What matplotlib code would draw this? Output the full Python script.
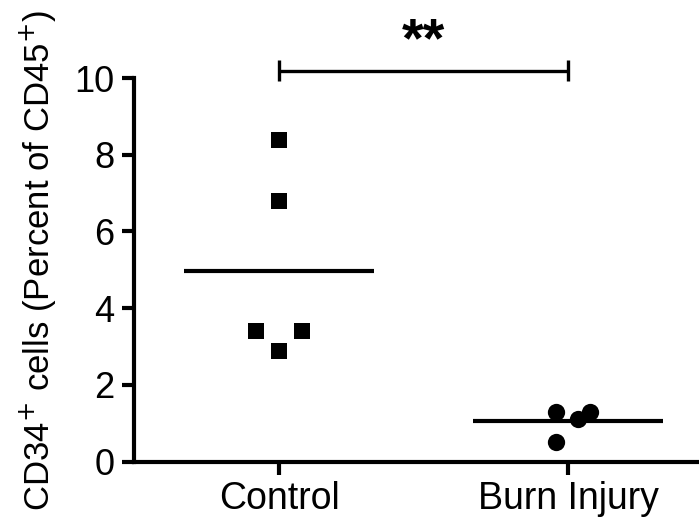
import matplotlib
matplotlib.use("Agg")
import matplotlib.pyplot as plt

plt.rcParams['font.family'] = ['Liberation Sans', 'DejaVu Sans']

# values
categories = ["Control", "Burn Injury"]
control_vals = [8.38, 6.79, 3.40, 3.40, 2.88]
burn_vals = [1.30, 1.10, 1.30, 0.50]
control_jitter = [0.0, 0.0, -0.08, 0.08, 0.0]
burn_jitter = [-0.043, 0.036, 0.076, -0.043]
y_ticks = [0, 2, 4, 6, 8, 10]
sig_label = "**"

fig = plt.figure(figsize=(6.99, 5.24), dpi=100)
# axes runs past the right edge, like the cropped original
ax = fig.add_axes([134 / 699, 1 - 461.5 / 524, (712.5 - 134) / 699, (461.5 - 78) / 524])

lw = 3.0
ax.scatter([0 + j for j in control_jitter], control_vals, marker='s', s=135,
           color='black', linewidths=0, zorder=3, clip_on=False)
ax.scatter([1 + j for j in burn_jitter], burn_vals, marker='o', s=155,
           color='black', linewidths=0, zorder=3, clip_on=False)

# mean lines
for i, vals in enumerate([control_vals, burn_vals]):
    m = sum(vals) / len(vals)
    ax.plot([i - 0.33, i + 0.33], [m, m], color='black', lw=lw, solid_capstyle='butt')

# significance bracket
yb = 10.19
ax.plot([0, 1], [yb, yb], color='black', lw=lw * 0.8, clip_on=False, solid_capstyle='butt')
for xb in [0, 1]:
    ax.plot([xb, xb], [yb - 0.27, yb + 0.27], color='black', lw=lw * 0.8, clip_on=False,
            solid_capstyle='butt')
ax.text(0.5, 10.94, sig_label, ha='center', va='center', fontsize=40, fontweight='bold')

ax.set_xlim(-0.502, 1.5)
ax.set_ylim(0, 10)
ax.set_yticks(y_ticks)
ax.set_xticks([0, 1])
ax.set_xticklabels(categories)
ax.tick_params(axis='both', labelsize=26, width=lw, length=9, pad=5, color='black')
ax.tick_params(axis='x', labelsize=27)
ax.set_ylabel("CD34$^{+}$ cells (Percent of CD45$^{+}$)", fontsize=25)
ax.yaxis.label.set_va('center')
ax.yaxis.set_label_coords(-0.166, 0.525)

for side in ['top', 'right']:
    ax.spines[side].set_visible(False)
for side in ['left', 'bottom']:
    ax.spines[side].set_linewidth(lw)

fig.savefig("out.png", dpi=100)
